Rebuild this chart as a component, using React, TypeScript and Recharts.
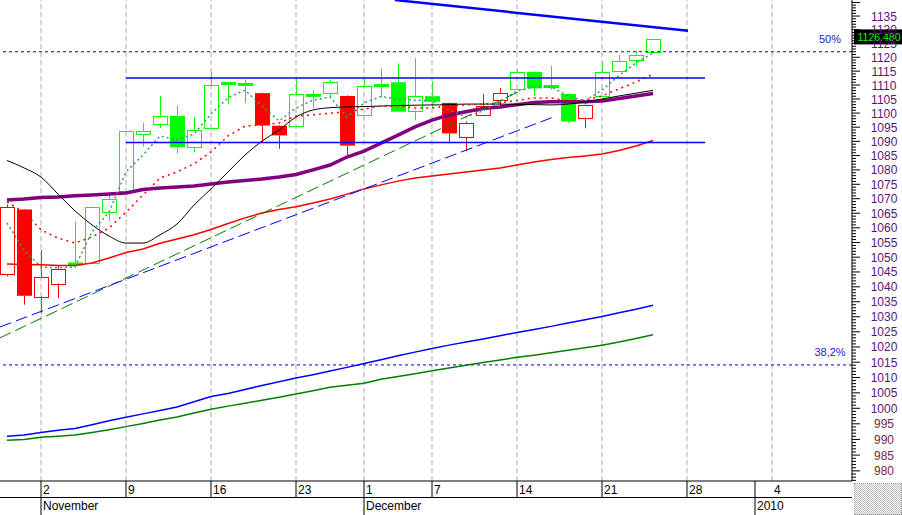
import React from "react";
import { ComposedChart, Bar, Line, XAxis, YAxis, ReferenceLine } from "recharts";

// one slot per trading day, slot 0 = 29 Oct 2009 (30 Nov is missing in the feed)
const opens = [1044.0, 1066.3, 1036.8, 1041.1, 1047.9, 1048.2, 1065.5, 1072.6, 1092.6, 1096.3, 1099.0, 1088.1, 1094.8, 1110.1, 1110.0, 1107.1, 1095.5, 1095.3, 1106.1, 1107.2, 1106.1, 1099.1, 1109.6, 1111.0, 1100.8, 1106.0, 1103.6, 1091.5, 1099.2, 1104.5, 1108.5, 1114.7, 1109.2, 1106.8, 1098.4, 1106.0, 1114.9, 1119.1, 1121.9];
const highs = [1068.0, 1066.5, 1052.4, 1047.0, 1062.0, 1067.4, 1071.7, 1093.8, 1096.5, 1106.1, 1102.6, 1098.4, 1114.7, 1111.2, 1111.9, 1107.3, 1095.7, 1112.6, 1108.2, 1111.9, 1106.3, 1112.8, 1116.0, 1117.8, 1119.7, 1111.3, 1103.8, 1097.0, 1106.8, 1108.9, 1115.5, 1114.9, 1116.9, 1107.0, 1104.0, 1118.3, 1120.8, 1122.2, 1126.6];
const lows = [1043.5, 1034.0, 1031.0, 1036.2, 1046.5, 1048.0, 1062.4, 1072.5, 1088.2, 1094.7, 1085.8, 1086.3, 1094.6, 1103.3, 1103.6, 1089.5, 1087.4, 1095.2, 1101.8, 1105.6, 1084.7, 1099.0, 1105.6, 1100.3, 1097.4, 1101.8, 1089.3, 1086.5, 1099.0, 1102.1, 1108.4, 1106.2, 1108.3, 1096.4, 1094.6, 1105.9, 1114.8, 1116.9, 1121.8];
const closes = [1067.0, 1037.0, 1043.4, 1046.1, 1047.5, 1067.2, 1069.9, 1093.7, 1093.7, 1099.0, 1087.9, 1094.0, 1110.0, 1111.0, 1110.4, 1095.6, 1092.1, 1106.7, 1106.5, 1111.0, 1088.5, 1109.6, 1110.0, 1100.5, 1106.2, 1104.0, 1092.8, 1096.4, 1102.4, 1107.1, 1114.7, 1108.8, 1109.7, 1097.0, 1103.0, 1114.7, 1118.5, 1121.0, 1126.48];
const candleTone = "rrrrgggggggggggrrgggrgggggrrrrggggrgggg".split("");

const maPurple = [1069.6, 1069.9, 1070.4, 1070.6, 1071.0, 1071.3, 1071.6, 1072.0, 1073.2, 1073.7, 1074.1, 1074.4, 1075.1, 1075.8, 1076.3, 1076.8, 1077.5, 1078.4, 1080.0, 1081.7, 1084.5, 1086.6, 1089.4, 1092.2, 1095.1, 1097.5, 1099.3, 1100.5, 1101.6, 1102.2, 1103.0, 1103.8, 1104.0, 1104.0, 1104.0, 1104.3, 1105.2, 1106.1, 1107.0];
const maBlack = [1083.3, 1080.7, 1077.5, 1071.6, 1065.8, 1061.0, 1057.2, 1054.8, 1054.8, 1057.6, 1061.3, 1067.8, 1073.4, 1079.3, 1085.2, 1090.1, 1094.0, 1098.6, 1101.1, 1101.9, 1102.2, 1102.3, 1102.5, 1102.7, 1102.8, 1102.9, 1103.0, 1103.2, 1103.2, 1103.2, 1103.1, 1103.0, 1102.9, 1103.2, 1103.9, 1105.0, 1106.1, 1107.1, 1108.1];
const maRed = [1047.7, 1047.5, 1047.4, 1047.2, 1047.2, 1048.0, 1049.7, 1051.6, 1052.8, 1054.7, 1056.2, 1057.6, 1059.4, 1061.5, 1063.4, 1065.1, 1066.3, 1067.2, 1068.5, 1069.9, 1071.6, 1073.4, 1074.8, 1076.1, 1077.2, 1077.9, 1078.6, 1079.3, 1080.0, 1080.7, 1081.7, 1082.8, 1083.6, 1084.3, 1084.9, 1085.6, 1086.8, 1088.4, 1090.3];
const maRedFast = [1068.9, 1065.4, 1059.3, 1056.5, 1054.8, 1056.9, 1059.9, 1065.4, 1071.3, 1077.2, 1079.3, 1082.1, 1086.3, 1091.9, 1095.4, 1095.8, 1096.5, 1099.0, 1099.3, 1100.0, 1100.4, 1101.4, 1102.5, 1102.5, 1101.8, 1101.8, 1102.5, 1102.9, 1103.2, 1103.6, 1104.5, 1105.4, 1105.4, 1104.3, 1104.7, 1106.1, 1108.6, 1111.1, 1113.9];
const maTeal = [1061.7, 1052.4, 1046.7, 1046.4, 1046.7, 1058.6, 1065.4, 1079.3, 1085.2, 1091.9, 1090.5, 1092.6, 1099.7, 1105.4, 1108.2, 1102.5, 1097.2, 1101.8, 1104.6, 1105.7, 1098.6, 1103.6, 1105.9, 1105.0, 1104.6, 1104.3, 1101.1, 1098.6, 1100.8, 1103.9, 1107.9, 1109.3, 1109.4, 1106.1, 1104.3, 1108.2, 1113.4, 1118.0, 1121.5];
const maBlueLong = [991.0, 991.4, 992.2, 992.9, 993.5, 994.7, 996.0, 997.1, 998.2, 999.3, 1000.4, 1002.1, 1003.8, 1004.8, 1006.1, 1007.4, 1008.6, 1009.8, 1010.9, 1012.1, 1013.3, 1014.6, 1015.8, 1017.1, 1018.3, 1019.5, 1020.6, 1021.6, 1022.6, 1023.7, 1024.8, 1025.8, 1026.8, 1027.9, 1029.0, 1030.1, 1031.3, 1032.5, 1033.8];
const maGreenLong = [989.7, 990.0, 990.7, 991.0, 991.4, 992.2, 993.1, 994.1, 995.1, 996.2, 997.2, 998.5, 999.7, 1000.7, 1001.6, 1002.6, 1003.6, 1004.6, 1005.7, 1006.8, 1007.5, 1008.1, 1009.4, 1010.3, 1011.2, 1012.2, 1013.1, 1014.0, 1014.9, 1015.7, 1016.6, 1017.3, 1018.1, 1018.9, 1019.7, 1020.6, 1021.6, 1022.8, 1024.0];

// drawn trend / support lines (slot, price)
const trendTop = [{ x: 22.82, y: 1140.9 }, { x: 40.06, y: 1129.6 }];
const trendGreen = [{ x: -0.41, y: 1023.0 }, { x: 30.06, y: 1107.5 }];
const trendBlue = [{ x: -0.41, y: 1026.6 }, { x: 32.06, y: 1098.4 }];
const supportLevels = [1112.5, 1089.6];
const supportFrom = 7;
const supportTo = 41.06;
const fibLevels = [1122.0, 1014.1];
const fibNames = ["50%", "38,2%"];

// axis labels
const weekSlots = [2, 7, 12, 17, 21, 25, 30, 35, 40, 45];
const weekDays = ["2", "9", "16", "23", "1", "7", "14", "21", "28", "4"];
const monthSlots = [2, 21, 44];
const monthNames = ["November", "December", "2010"];
const priceTicks: number[] = [];
for (let v = 977; v <= 1140; v++) priceTicks.push(v);

const FONT = "'Liberation Sans', Arial, sans-serif";
const Y_MIN = 976.8;
const Y_MAX = 1140.9;

const data = opens.map((o, i) => ({
  i,
  open: o,
  high: highs[i],
  low: lows[i],
  close: closes[i],
  tone: candleTone[i],
  range: [lows[i], highs[i]],
  purple: maPurple[i],
  black: maBlack[i],
  red: maRed[i],
  redFast: maRedFast[i],
  teal: maTeal[i],
  blueLong: maBlueLong[i],
  greenLong: maGreenLong[i],
}));

function Candle(props: any) {
  const { x, y, width, height, payload } = props;
  if (payload == null || y == null || isNaN(y)) return null;
  const cx = Math.round(x + width / 2) + 0.5;
  const lnHi = Math.log(payload.high);
  const span = lnHi - Math.log(payload.low) || 1;
  const toY = (v: number) => y + (height * (lnHi - Math.log(v))) / span;
  const color = payload.tone === "g" ? "#00ff00" : "#ff0000";
  const top = toY(Math.max(payload.open, payload.close));
  const bot = toY(Math.min(payload.open, payload.close));
  const bodyH = bot - top;
  const falling = payload.close < payload.open;
  let body;
  if (bodyH < 3) {
    body = <rect x={cx - 7.5} y={(top + bot) / 2 - 1.5} width={15} height={3} fill={color} />;
  } else if (falling) {
    body = <rect x={cx - 7.5} y={top} width={15} height={bodyH} fill={color} />;
  } else {
    body = <rect x={cx - 7} y={Math.round(top) + 0.5} width={14} height={Math.round(bodyH)} fill="none" stroke={color} />;
  }
  return (
    <g>
      <line x1={cx} x2={cx} y1={y} y2={top} stroke={color} />
      <line x1={cx} x2={cx} y1={bot} y2={y + height} stroke={color} />
      {body}
    </g>
  );
}

function PriceTick(props: any) {
  const { x, y, payload } = props;
  const v = payload.value;
  const major = v % 5 === 0;
  return (
    <g>
      <line x1={x} x2={x + (major ? 8 : 4)} y1={y} y2={y} stroke="#000" />
      {major && v >= 980 && v <= 1135 && (
        <text x={x + 32} y={y + 4.5} textAnchor="middle" fontSize={12} fontFamily={FONT} fill={v >= 1000 ? "#5a1478" : "#7a2a3a"}>
          {v}
        </text>
      )}
    </g>
  );
}

function DateTick(props: any) {
  const { x, y, payload } = props;
  const slot = payload.value;
  const w = weekSlots.indexOf(slot);
  const m = monthSlots.indexOf(slot);
  const afterMonth = monthSlots.indexOf(slot - 1) >= 0;
  return (
    <g fontFamily={FONT} fontSize={12} fill="#000">
      {w >= 0 && !afterMonth && <line x1={x} x2={x} y1={y} y2={y + 16} stroke="#000" />}
      {w >= 0 && (
        <text x={x + 2} y={y + 13}>
          {weekDays[w]}
        </text>
      )}
      {m >= 0 && <line x1={x} x2={x} y1={w >= 0 ? y + 16 : y} y2={y + 34} stroke="#000" />}
      {m >= 0 && (
        <text x={x + 2} y={y + 29}>
          {monthNames[m]}
        </text>
      )}
    </g>
  );
}

function FibLabel(props: any) {
  const { viewBox, text } = props;
  return (
    <text x={viewBox.x + viewBox.width - 22} y={viewBox.y - 9} textAnchor="middle" fontSize={11} fontFamily={FONT} fill="#2222cc">
      {text}
    </text>
  );
}

// the last-price tag sits on top of the axis labels, as in the original
function PriceTag(props: any) {
  const { viewBox, text } = props;
  const x = viewBox.x + viewBox.width + 2;
  const y = viewBox.y;
  return (
    <g>
      <rect x={x} y={y - 10} width={48} height={15} fill="#000" />
      <text x={x + 25} y={y + 1.5} textAnchor="middle" fontSize={10.5} fontFamily={FONT} fill="#00ff00">
        {text}
      </text>
    </g>
  );
}

const lineProps = { type: "linear" as const, dot: false, activeDot: false, isAnimationActive: false };

export default function App() {
  const last = closes[closes.length - 1];
  return (
    <div style={{ position: "absolute", left: 0, top: 0, width: 902, height: 515, background: "#fff" }}>
      <ComposedChart width={902} height={515} data={data} margin={{ top: 0, right: 0, bottom: 0, left: 0 }}>
        <XAxis
          type="number"
          dataKey="i"
          domain={[-7 / 17, 845 / 17]}
          allowDataOverflow
          ticks={[...weekSlots, 44].sort((a, b) => a - b)}
          interval={0}
          tick={<DateTick />}
          tickLine={false}
          tickSize={0}
          tickMargin={0}
          axisLine={{ stroke: "#000" }}
          height={34}
        />
        <YAxis
          orientation="right"
          scale="log"
          domain={[Y_MIN, Y_MAX]}
          allowDataOverflow
          ticks={priceTicks}
          interval={0}
          tick={<PriceTick />}
          tickLine={false}
          tickSize={0}
          tickMargin={0}
          axisLine={{ stroke: "#000" }}
          width={50}
        />
        {weekSlots.map((s) => (
          <ReferenceLine key={"g" + s} x={s} stroke="#a8a8a8" strokeDasharray="5 3" />
        ))}
        {fibLevels.map((lv, k) => (
          <ReferenceLine key={"f" + k} y={lv} stroke="#0000cc" strokeDasharray="3 3" label={<FibLabel text={fibNames[k]} />} />
        ))}
        <Bar dataKey="range" barSize={15} isAnimationActive={false} shape={(p: any) => <Candle {...p} />} />
        <Line dataKey="blueLong" stroke="#0000ff" strokeWidth={1.5} {...lineProps} />
        <Line dataKey="greenLong" stroke="#008000" strokeWidth={1.5} {...lineProps} />
        <Line dataKey="red" stroke="#ff0000" strokeWidth={1.5} {...lineProps} />
        <Line dataKey="purple" stroke="#800080" strokeWidth={3.5} {...lineProps} />
        <Line dataKey="black" stroke="#000" strokeWidth={1} {...lineProps} type="monotone" />
        <Line dataKey="redFast" stroke="#ff0000" strokeWidth={1.5} strokeDasharray="2 4" {...lineProps} />
        <Line dataKey="teal" stroke="#3a9a6a" strokeWidth={1.5} strokeDasharray="2 3" {...lineProps} />
        <ReferenceLine segment={trendGreen} stroke="#008000" strokeDasharray="12 5" ifOverflow="visible" />
        <ReferenceLine segment={trendBlue} stroke="#0000ff" strokeDasharray="12 5" ifOverflow="visible" />
        <ReferenceLine segment={trendTop} stroke="#0000ff" strokeWidth={2.5} ifOverflow="visible" />
        {supportLevels.map((lv) => (
          <ReferenceLine
            key={"s" + lv}
            segment={[{ x: supportFrom, y: lv }, { x: supportTo, y: lv }]}
            stroke="#0000ff"
            strokeWidth={1.5}
            ifOverflow="visible"
          />
        ))}
        <ReferenceLine y={last} stroke="none" label={<PriceTag text={last.toFixed(3)} />} ifOverflow="visible" />
      </ComposedChart>
      <div style={{ position: "absolute", left: 0, top: 497, width: 852, height: 1, background: "#000" }} />
      <div
        style={{
          position: "absolute",
          left: 854,
          top: 483,
          width: 46,
          height: 30,
          border: "1px dotted #999",
          background: "repeating-conic-gradient(#c4c4c4 0 25%, #f4f4f4 0 50%) 0 0 / 2px 2px",
        }}
      />
    </div>
  );
}
